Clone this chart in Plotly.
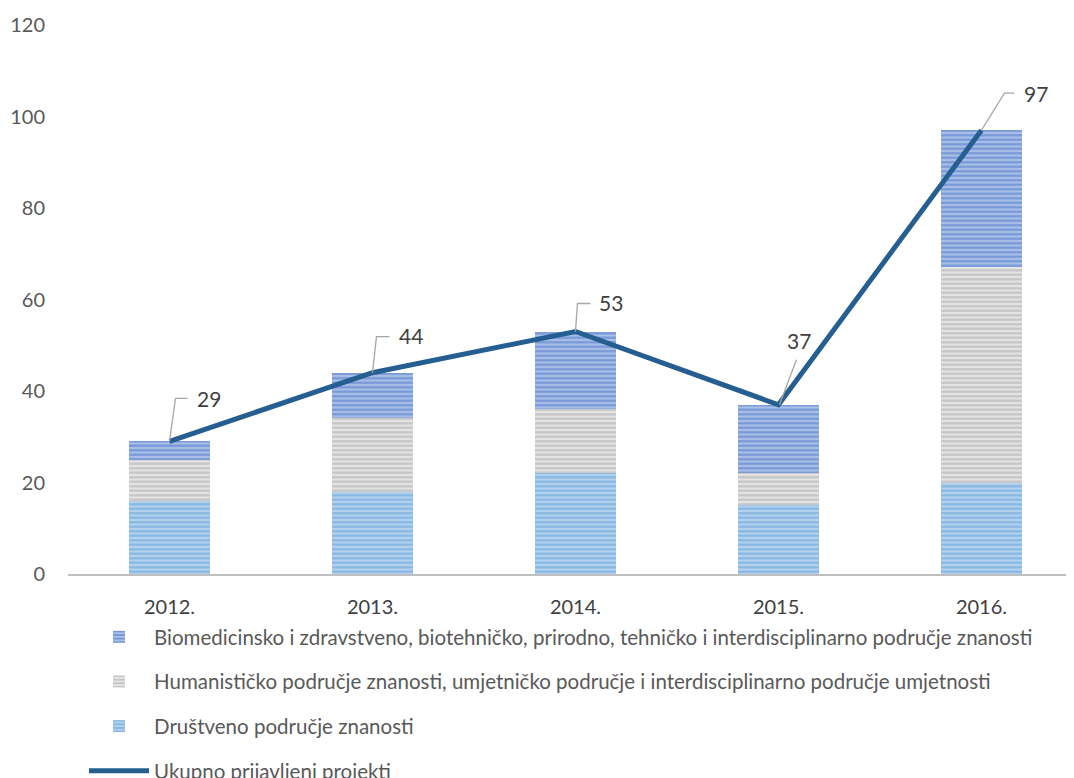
import plotly.graph_objects as go

years = ["2012.", "2013.", "2014.", "2015.", "2016."]
drustveno = [16, 18, 22, 15, 20]
humanisticko = [9, 16, 14, 7, 47]
biomedicinsko = [4, 10, 17, 15, 30]
ukupno = [29, 44, 53, 37, 97]

name_bio = "Biomedicinsko i zdravstveno, biotehničko, prirodno, tehničko i interdisciplinarno područje znanosti"
name_hum = "Humanističko područje znanosti, umjetničko područje i interdisciplinarno područje umjetnosti"
name_dru = "Društveno područje znanosti"
name_uk = "Ukupno prijavljeni projekti"

FONT = "Lato, 'Open Sans', sans-serif"

fig = go.Figure()

def bar(y, name, bg, fg, rank):
    return go.Bar(
        x=years, y=y, name=name, width=0.4,
        marker=dict(color=bg, line=dict(width=0),
                    pattern=dict(shape="-", fgcolor=fg, bgcolor=bg, size=4.5, solidity=0.5, fillmode="overlay")),
        legendgroup=name, legendrank=rank,
    )

fig.add_trace(bar(drustveno, name_dru, "#b3d2ef", "#5b9bd5", 3))
fig.add_trace(bar(humanisticko, name_hum, "#e4e4e4", "#a5a5a5", 2))
fig.add_trace(bar(biomedicinsko, name_bio, "#a9bfe8", "#4472c4", 1))
fig.add_trace(go.Scatter(
    x=years, y=ukupno, name=name_uk, mode="lines",
    line=dict(color="#255e91", width=5),
    legendgroup=name_uk, legendrank=4,
))

# label leader layout (pixel offsets from data point)
leader_paths = [
    "M0,0 L6,43 L18,43",
    "M0,0 L4,36 L17,36",
    "M0,0 L2,28 L15,28",
    "M1,0 L18,45",
    "M0,0 L23,37 L33,37",
]
label_shift = [(26, 43), (25, 37), (22, 29), (21, 64), (41, 37)]
label_anchor = ["left", "left", "left", "center", "left"]

for i, v in enumerate(ukupno):
    fig.add_shape(
        type="path", xref="x", yref="y", xsizemode="pixel", ysizemode="pixel",
        xanchor=i, yanchor=v, path=leader_paths[i],
        line=dict(color="#a6a6a6", width=1.3),
    )
    fig.add_annotation(
        x=i, y=v, text=str(v), showarrow=False,
        xshift=label_shift[i][0], yshift=label_shift[i][1],
        xanchor=label_anchor[i], yanchor="middle",
        font=dict(family=FONT, size=21, color="#404040"),
    )

fig.update_layout(
    width=1066, height=770,
    barmode="stack",
    paper_bgcolor="white", plot_bgcolor="white",
    margin=dict(l=60, r=0, t=17, b=204, autoexpand=False),
    font=dict(family=FONT, size=20, color="#595959"),
    xaxis=dict(range=[-0.5, 4.456], showgrid=False, showline=True, linecolor="#bfbfbf", linewidth=2,
               ticks="", tickfont=dict(size=20, color="#404040"), ticklabelstandoff=14, automargin=False),
    yaxis=dict(range=[0, 120], dtick=20, showgrid=False, zeroline=False, showline=False,
               ticks="", tickfont=dict(size=20, color="#595959"), ticklabelstandoff=22, automargin=False),
    showlegend=True,
    legend=dict(orientation="v", xref="container", yref="container", x=0.0713, xanchor="left",
                y=0.2091, yanchor="top",
                traceorder="grouped", tracegroupgap=15, itemwidth=60,
                font=dict(family=FONT, size=20.5, color="#595959"), bgcolor="rgba(0,0,0,0)"),
)

fig.write_html("out.html")
